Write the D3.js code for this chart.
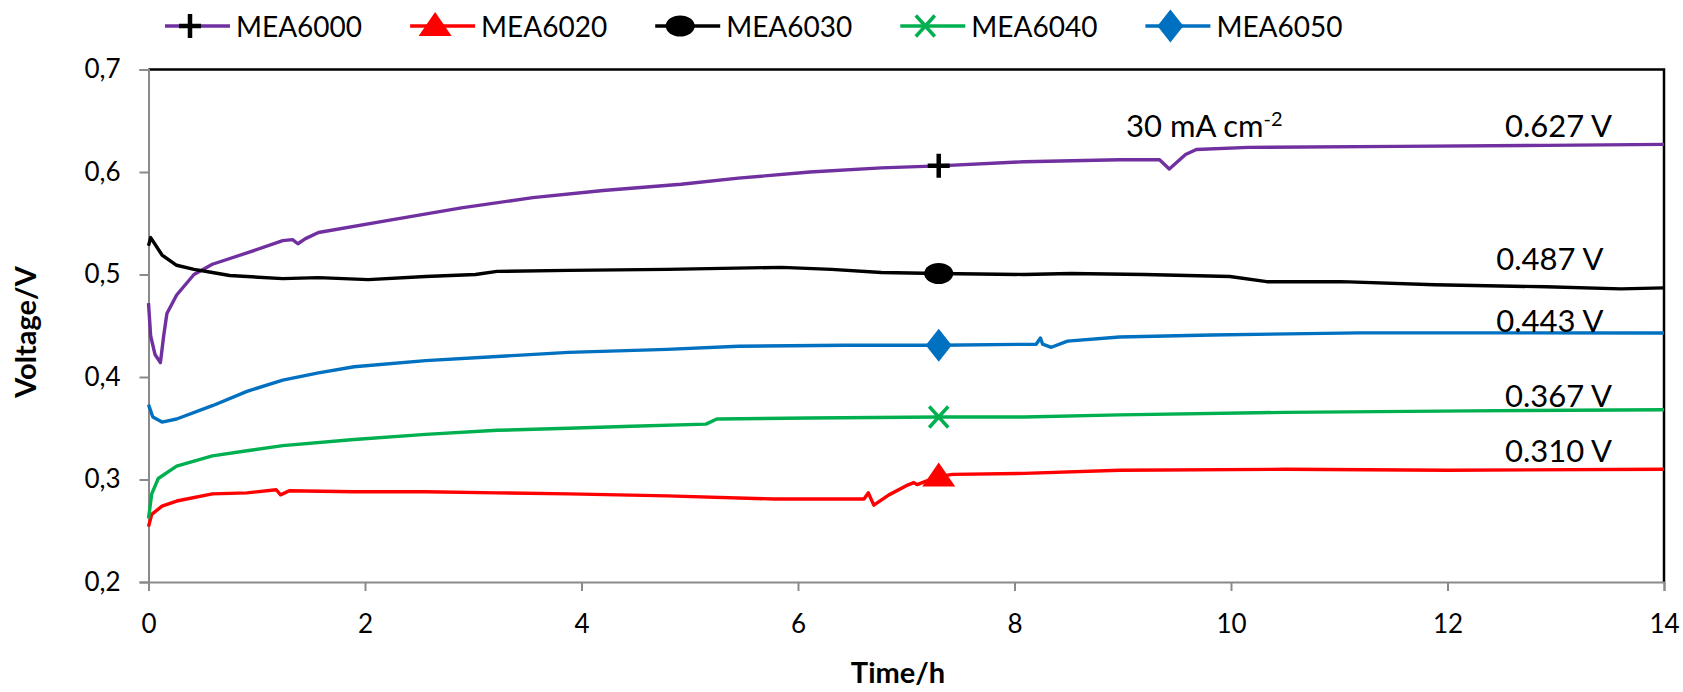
<!DOCTYPE html>
<html>
<head>
<meta charset="utf-8">
<script src="https://cdn.jsdelivr.net/npm/d3@7"></script>
<style>
  body { margin: 0; background: #fff; }
  text { font-family: Lato, "Open Sans", sans-serif; fill: #000; }
</style>
</head>
<body>
<script>
// [time (h), voltage (V)]
const mea6000 = [[0, 0.472], [0.02, 0.44], [0.06, 0.422], [0.11, 0.414], [0.14, 0.44], [0.17, 0.462],
  [0.26, 0.48], [0.42, 0.5], [0.59, 0.51], [0.91, 0.521], [1.24, 0.533], [1.33, 0.534], [1.38, 0.53],
  [1.45, 0.535], [1.57, 0.541], [2.23, 0.553], [2.89, 0.565], [3.55, 0.575], [4.2, 0.582], [4.92, 0.588],
  [5.45, 0.594], [6.11, 0.6], [6.77, 0.604], [7.3, 0.606], [8.09, 0.61], [8.97, 0.612], [9.34, 0.612],
  [9.43, 0.603], [9.58, 0.617], [9.68, 0.622], [10.16, 0.624], [11.54, 0.625], [12.91, 0.626], [14, 0.627]];

const mea6020 = [[0, 0.254], [0.03, 0.266], [0.125, 0.274], [0.26, 0.279], [0.59, 0.286], [0.91, 0.287],
  [1.18, 0.29], [1.22, 0.285], [1.3, 0.289], [1.9, 0.288], [2.56, 0.288], [3.22, 0.287], [3.88, 0.286],
  [4.79, 0.284], [5.78, 0.281], [6.61, 0.281], [6.65, 0.287], [6.7, 0.275], [6.84, 0.285], [7.0, 0.294],
  [7.07, 0.297], [7.1, 0.295], [7.3, 0.303], [7.43, 0.305], [8.09, 0.306], [8.97, 0.309], [10.5, 0.31],
  [12, 0.309], [14, 0.31]];

const mea6030 = [[0, 0.528], [0.02, 0.536], [0.125, 0.519], [0.26, 0.509], [0.42, 0.505], [0.59, 0.502],
  [0.75, 0.499], [0.91, 0.498], [1.24, 0.496], [1.57, 0.497], [2.03, 0.495], [2.56, 0.498], [3.02, 0.5],
  [3.22, 0.503], [3.88, 0.504], [4.79, 0.505], [5.85, 0.507], [6.31, 0.505], [6.77, 0.502], [7.3, 0.501],
  [8.09, 0.5], [8.52, 0.501], [9.2, 0.5], [9.99, 0.498], [10.33, 0.493], [11.02, 0.493], [11.88, 0.49],
  [12.91, 0.488], [13.6, 0.486], [14, 0.487]];

const mea6040 = [[0, 0.262], [0.03, 0.286], [0.09, 0.301], [0.26, 0.313], [0.59, 0.323], [0.91, 0.328],
  [1.24, 0.333], [1.9, 0.339], [2.56, 0.344], [3.22, 0.348], [3.88, 0.35], [4.46, 0.352], [5.15, 0.354],
  [5.25, 0.359], [6.11, 0.36], [7.3, 0.361], [8.09, 0.361], [8.97, 0.363], [10.5, 0.3655], [12.22, 0.367],
  [14, 0.368]];

const mea6050 = [[0, 0.373], [0.04, 0.361], [0.125, 0.356], [0.26, 0.359], [0.59, 0.372], [0.91, 0.386],
  [1.24, 0.397], [1.57, 0.404], [1.9, 0.41], [2.56, 0.416], [3.22, 0.42], [3.88, 0.424], [4.79, 0.427],
  [5.45, 0.43], [6.44, 0.431], [7.3, 0.431], [8.2, 0.432], [8.24, 0.438], [8.26, 0.432], [8.34, 0.429],
  [8.49, 0.435], [8.97, 0.439], [9.82, 0.441], [11.19, 0.443], [14, 0.443]];

const seriesNames = ["MEA6000", "MEA6020", "MEA6030", "MEA6040", "MEA6050"];
const seriesData = [mea6000, mea6020, mea6030, mea6040, mea6050];
const lineColors = ["#7030a0", "#ff0000", "#000000", "#00b050", "#0070c0"];
const markerColors = ["#000000", "#ff0000", "#000000", "#00b050", "#0070c0"];
const markerShapes = ["plus", "triangle", "ellipse", "cross", "diamond"];
const markerTime = 7.3;

const xTicks = [0, 2, 4, 6, 8, 10, 12, 14];
const yTicks = [0.2, 0.3, 0.4, 0.5, 0.6, 0.7];

// text boxes: anchor given in data units (t, V)
const endLabels = [
  { text: "0.627 V", t: 13.52, v: 0.6344 },
  { text: "0.487 V", t: 13.44, v: 0.5044 },
  { text: "0.443 V", t: 13.44, v: 0.4442 },
  { text: "0.367 V", t: 13.52, v: 0.371 },
  { text: "0.310 V", t: 13.52, v: 0.3174 },
];
const currentLabel = { t: 9.03, v: 0.634 };

const W = 1683, H = 692;
const margin = { top: 69.5, right: 19, bottom: 110, left: 148.5 },
  width = W - margin.left - margin.right,
  height = H - margin.top - margin.bottom;

const axisGray = "#8a8a8a";

const svg = d3.select("body").append("svg")
  .attr("width", W)
  .attr("height", H);

svg.append("rect").attr("width", W).attr("height", H).attr("fill", "#fff");

const g = svg.append("g")
  .attr("transform", `translate(${margin.left},${margin.top})`);

const x = d3.scaleLinear().domain([0, 14]).range([0, width]);
const y = d3.scaleLinear().domain([0.2, 0.7]).range([height, 0]);

// top + right frame
g.append("path")
  .attr("d", `M0,0H${width}V${height}`)
  .attr("fill", "none")
  .attr("stroke", "#000")
  .attr("stroke-width", 2.5);

const yAxis = g.append("g")
  .call(d3.axisLeft(y).tickValues(yTicks).tickSize(9).tickPadding(19)
    .tickFormat((d) => d3.format(".1f")(d).replace(".", ",")));

const xAxis = g.append("g")
  .attr("transform", `translate(0,${height})`)
  .call(d3.axisBottom(x).tickValues(xTicks).tickSize(9).tickPadding(24));

[yAxis, xAxis].forEach((a) => {
  a.select(".domain").attr("stroke", axisGray).attr("stroke-width", 2);
  a.selectAll(".tick line").attr("stroke", axisGray).attr("stroke-width", 2);
  a.selectAll(".tick text").attr("font-size", 26).attr("font-family", "Lato").attr("fill", "#000");
});

const line = d3.line()
  .x((d) => x(d[0]))
  .y((d) => y(d[1]));

g.append("g")
  .selectAll("path")
  .data(seriesData)
  .enter()
  .append("path")
  .attr("d", line)
  .attr("fill", "none")
  .attr("stroke", (d, i) => lineColors[i])
  .attr("stroke-width", 3.4)
  .attr("stroke-linejoin", "round");

function drawMarker(sel, shape, color) {
  if (shape === "plus") {
    sel.append("path").attr("d", "M-11,0H11M0,-12V12")
      .attr("stroke", color).attr("stroke-width", 4.5);
  } else if (shape === "triangle") {
    sel.append("path").attr("d", "M0,-14L16.5,10H-16.5Z").attr("fill", color);
  } else if (shape === "ellipse") {
    sel.append("ellipse").attr("rx", 14.5).attr("ry", 10.5).attr("fill", color);
  } else if (shape === "cross") {
    sel.append("path").attr("d", "M-9.5,-10.5L9.5,10.5M-9.5,10.5L9.5,-10.5")
      .attr("stroke", color).attr("stroke-width", 3.5);
  } else if (shape === "diamond") {
    sel.append("path").attr("d", "M0,-16.5L13,0L0,16.5L-13,0Z").attr("fill", color);
  }
}

seriesData.forEach((s, i) => {
  const p = s.find((d) => d[0] === markerTime);
  const m = g.append("g").attr("transform", `translate(${x(p[0])},${y(p[1])})`);
  drawMarker(m, markerShapes[i], markerColors[i]);
});

// end value labels
g.append("g")
  .attr("font-size", 31)
  .selectAll("text")
  .data(endLabels)
  .enter()
  .append("text")
  .attr("x", (d) => x(d.t))
  .attr("y", (d) => y(d.v))
  .attr("text-anchor", "end")
  .text((d) => d.text);

const cl = g.append("text")
  .attr("x", x(currentLabel.t))
  .attr("y", y(currentLabel.v))
  .attr("font-size", 31);
cl.append("tspan").text("30 mA cm");
cl.append("tspan").attr("font-size", 20).attr("dy", -11).text("-2");

// axis titles
svg.append("text")
  .attr("x", 898)
  .attr("y", 683)
  .attr("text-anchor", "middle")
  .attr("font-size", 29)
  .attr("font-weight", "bold")
  .text("Time/h");

svg.append("text")
  .attr("transform", "translate(36,332) rotate(-90)")
  .attr("text-anchor", "middle")
  .attr("font-size", 29)
  .attr("font-weight", "bold")
  .text("Voltage/V");

// legend
const legend = svg.append("g")
  .selectAll("g")
  .data(seriesNames)
  .enter()
  .append("g")
  .attr("transform", (d, i) => `translate(${165 + i * 245.1},26)`);

legend.append("line")
  .attr("x1", 0).attr("x2", 65)
  .attr("stroke", (d, i) => lineColors[i])
  .attr("stroke-width", 3.4);

legend.each(function (d, i) {
  const m = d3.select(this).append("g").attr("transform", "translate(25,0)");
  drawMarker(m, markerShapes[i], markerColors[i]);
});

legend.append("text")
  .attr("x", 71)
  .attr("y", 10.5)
  .attr("font-size", 28)
  .text((d) => d);
</script>
</body>
</html>
